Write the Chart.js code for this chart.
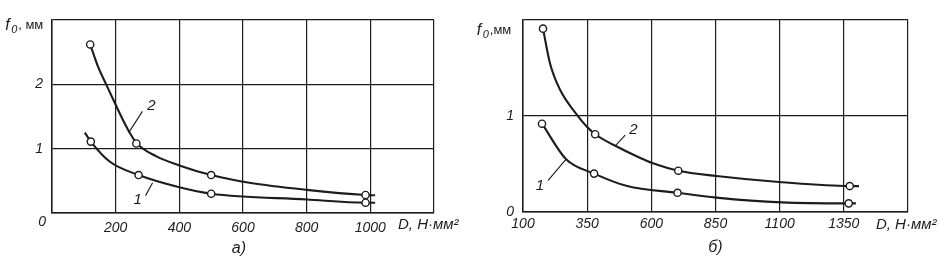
<!DOCTYPE html>
<html>
<head>
<meta charset="utf-8">
<script src="https://cdn.jsdelivr.net/npm/chart.js@4.4.1/dist/chart.umd.min.js"></script>
<style>
    html, body { margin: 0; padding: 0; background: #fff; }
    #wrap { position: relative; width: 945px; height: 262px; overflow: hidden; }
    #chartA { position: absolute; left: 0; top: 0; }
    #chartB { position: absolute; left: 465px; top: 0; }
</style>
</head>
<body>
<div id="wrap">
    <canvas id="chartA" width="465" height="262"></canvas>
    <canvas id="chartB" width="480" height="262"></canvas>
</div>
<script>
// ---- chart a) ----
// curve readings (line), measured points (circles)
const aCurve1D = [103, 122, 181, 272, 400, 500, 800, 985, 1015];
const aCurve1F = [1.25, 1.11, 0.80, 0.59, 0.40, 0.30, 0.21, 0.16, 0.16];
const aMarks1D = [122, 272, 500, 985];
const aMarks1F = [1.11, 0.59, 0.30, 0.16];

const aCurve2D = [120, 145, 172, 238, 265, 328, 400, 500, 620, 800, 985, 1015];
const aCurve2F = [2.62, 2.27, 1.98, 1.30, 1.09, 0.88, 0.74, 0.59, 0.47, 0.36, 0.28, 0.275];
const aMarks2D = [120, 265, 500, 985];
const aMarks2F = [2.62, 1.08, 0.59, 0.28];

const aXTicks = ['', '200', '400', '600', '800', '1000', ''];
const aYTicks = ['', '1', '2', ''];

// ---- chart б) ----
const bCurve1D = [174, 268, 377, 506, 702, 854, 1108, 1369, 1397];
const bCurve1F = [0.92, 0.55, 0.40, 0.27, 0.20, 0.15, 0.10, 0.09, 0.09];
const bMarks1D = [174, 377, 702, 1369];
const bMarks1F = [0.92, 0.40, 0.20, 0.09];

const bCurve2D = [178, 205, 245, 311, 350, 381, 452, 557, 604, 705, 854, 1108, 1373, 1409];
const bCurve2F = [1.91, 1.55, 1.27, 1.01, 0.885, 0.81, 0.70, 0.5625, 0.51, 0.43, 0.375, 0.31, 0.27, 0.27];
const bMarks2D = [178, 381, 705, 1373];
const bMarks2F = [1.91, 0.81, 0.43, 0.27];

const bXTicks = ['100', '350', '600', '850', '1100', '1350', ''];
const bYTicks = ['0', '1', ''];

const ink = '#1c1c1c';
const fontFam = "'Liberation Sans', Arial, sans-serif";

function pts(xs, ys) {
    return xs.map((x, i) => ({x: x, y: ys[i]}));
}

function curveSet(xs, ys) {
    return {
        data: pts(xs, ys),
        showLine: true,
        borderColor: ink,
        borderWidth: 2.1,
        pointRadius: 0,
        cubicInterpolationMode: 'monotone',
        order: 2
    };
}

function markSet(xs, ys) {
    return {
        data: pts(xs, ys),
        showLine: false,
        pointRadius: 3.6,
        pointBorderWidth: 1.4,
        pointBorderColor: ink,
        pointBackgroundColor: '#fff',
        order: 1
    };
}

// draws the hand-written labels of the figure, positions in data units
function labelPlugin(cfg) {
    return {
        id: 'figLabels',
        afterDraw: (chart) => {
            const {ctx, scales: {x, y}} = chart;
            const px = (v) => x.getPixelForValue(v);
            const py = (v) => y.getPixelForValue(v);
            ctx.save();
            ctx.fillStyle = ink;
            ctx.strokeStyle = ink;
            ctx.textBaseline = 'middle';

            // curve numbers with leader lines
            cfg.tags.forEach(t => {
                ctx.lineWidth = 1.1;
                ctx.beginPath();
                ctx.moveTo(px(t.from[0]), py(t.from[1]));
                ctx.lineTo(px(t.to[0]), py(t.to[1]));
                ctx.stroke();
                ctx.font = 'italic 15px ' + fontFam;
                ctx.textAlign = 'center';
                ctx.fillText(t.text, px(t.at[0]), py(t.at[1]));
            });

            // f0, мм
            let fx = px(cfg.fLabel[0]);
            let fy = py(cfg.fLabel[1]);
            ctx.textAlign = 'left';
            ctx.font = 'italic 16px ' + fontFam;
            ctx.fillText('f', fx, fy);
            ctx.font = 'italic 11px ' + fontFam;
            ctx.fillText('0', fx + 6, fy + 4);
            ctx.font = '13px ' + fontFam;
            ctx.fillText(cfg.fUnit, fx + 13, fy);

            // D, Н·мм²
            ctx.font = 'italic 15px ' + fontFam;
            ctx.fillText('D, Н·мм²', px(cfg.dLabel[0]), py(cfg.dLabel[1]));

            // origin zero
            if (cfg.zero) {
                ctx.font = 'italic 14px ' + fontFam;
                ctx.textAlign = 'center';
                ctx.fillText('0', px(cfg.zero[0]), py(cfg.zero[1]));
            }

            // sub-figure letter
            ctx.font = 'italic 16px ' + fontFam;
            ctx.textAlign = 'center';
            ctx.fillText(cfg.letter, px(cfg.letterAt[0]), py(cfg.letterAt[1]));
            ctx.restore();
        }
    };
}

function makeChart(id, sets, xs, ys, box, labels) {
    const ctx = document.getElementById(id).getContext('2d');
    return new Chart(ctx, {
        type: 'scatter',
        data: {datasets: sets},
        options: {
            responsive: false,
            animation: false,
            events: [],
            layout: {padding: {left: 0, top: box.top, right: box.right, bottom: 0}},
            plugins: {legend: {display: false}, tooltip: {enabled: false}},
            scales: {
                x: {
                    type: 'linear',
                    min: xs.min, max: xs.max,
                    afterFit: (s) => { s.height = box.xh; },
                    border: {color: ink, width: 1.5},
                    grid: {color: ink, lineWidth: 1.2, drawTicks: false},
                    ticks: {
                        stepSize: xs.step,
                        autoSkip: false,
                        maxRotation: 0,
                        padding: xs.pad,
                        color: ink,
                        font: {family: fontFam, size: 14, style: 'italic'},
                        callback: (v, i) => xs.labels[i]
                    }
                },
                y: {
                    type: 'linear',
                    min: ys.min, max: ys.max,
                    afterFit: (s) => { s.width = box.yw; },
                    border: {color: ink, width: 1.5},
                    grid: {color: ink, lineWidth: 1.2, drawTicks: false},
                    ticks: {
                        stepSize: ys.step,
                        padding: 9,
                        color: ink,
                        font: {family: fontFam, size: 14, style: 'italic'},
                        callback: (v, i) => ys.labels[i]
                    }
                }
            }
        },
        plugins: [labelPlugin(labels)]
    });
}

makeChart('chartA',
    [curveSet(aCurve1D, aCurve1F), curveSet(aCurve2D, aCurve2F),
     markSet(aMarks1D, aMarks1F), markSet(aMarks2D, aMarks2F)],
    {min: 0, max: 1200, step: 200, pad: 7, labels: aXTicks},
    {min: 0, max: 3, step: 1, labels: aYTicks},
    {top: 20, right: 31, xh: 49, yw: 52},
    {
        tags: [
            {text: '2', at: [312, 1.67], from: [241, 1.25], to: [284, 1.58]},
            {text: '1', at: [269, 0.20], from: [294, 0.27], to: [316, 0.47]}
        ],
        fLabel: [-147, 2.91], fUnit: ', мм',
        dLabel: [1087, -0.19],
        zero: [-31, -0.14],
        letter: 'а)', letterAt: [587, -0.55]
    });

makeChart('chartB',
    [curveSet(bCurve1D, bCurve1F), curveSet(bCurve2D, bCurve2F),
     markSet(bMarks1D, bMarks1F), markSet(bMarks2D, bMarks2F)],
    {min: 100, max: 1600, step: 250, pad: 4, labels: bXTicks},
    {min: 0, max: 2, step: 1, labels: bYTicks},
    {top: 20, right: 37, xh: 50, yw: 58},
    {
        tags: [
            {text: '2', at: [530, 0.86], from: [463, 0.70], to: [498, 0.80]},
            {text: '1', at: [166, 0.27], from: [198, 0.33], to: [268, 0.55]}
        ],
        fLabel: [-80, 1.89], fUnit: ',мм',
        dLabel: [1475, -0.135],
        zero: null,
        letter: 'б)', letterAt: [850, -0.375]
    });
</script>
</body>
</html>
